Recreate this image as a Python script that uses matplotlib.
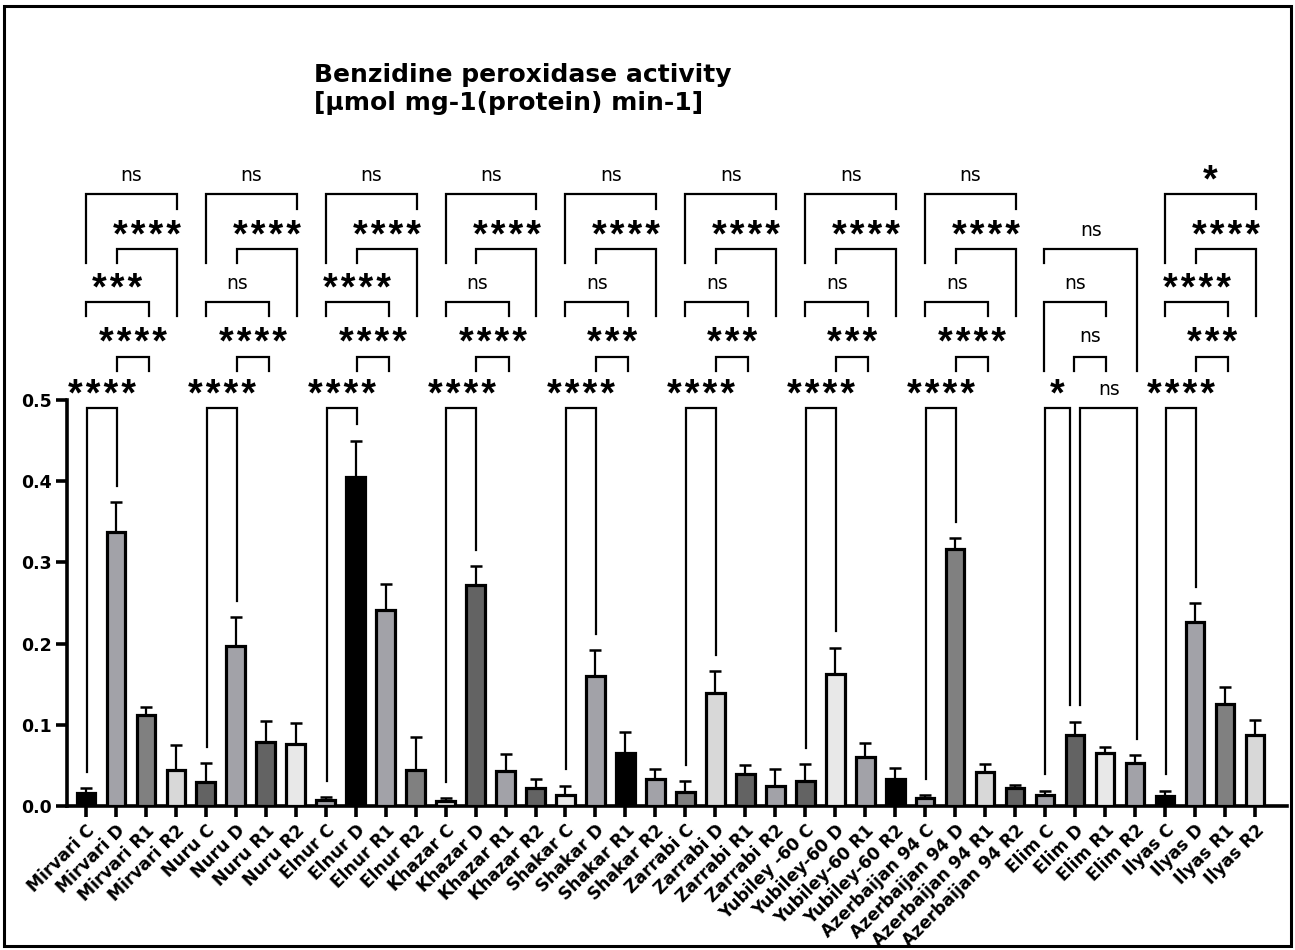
import matplotlib
matplotlib.use("Agg")
import matplotlib.pyplot as plt
from matplotlib.patches import Rectangle

plt.rcParams['font.family'] = ['DejaVu Sans']

# ---------------- data ----------------
cultivars = ["Mirvari", "Nuru", "Elnur", "Khazar", "Shakar", "Zarrabi",
             "Yubiley -60", "Azerbaijan 94", "Elim", "Ilyas"]
treatments = ["C", "D", "R1", "R2"]

labels = ["Mirvari C", "Mirvari D", "Mirvari R1", "Mirvari R2",
          "Nuru C", "Nuru D", "Nuru R1", "Nuru R2",
          "Elnur C", "Elnur D", "Elnur R1", "Elnur R2",
          "Khazar C", "Khazar D", "Khazar R1", "Khazar R2",
          "Shakar C", "Shakar D", "Shakar R1", "Shakar R2",
          "Zarrabi C", "Zarrabi D", "Zarrabi R1", "Zarrabi R2",
          "Yubiley -60 C", "Yubiley-60 D", "Yubiley-60 R1", "Yubiley-60 R2",
          "Azerbaijan 94 C", "Azerbaijan 94 D", "Azerbaijan 94 R1", "Azerbaijan 94 R2",
          "Elim C", "Elim D", "Elim R1", "Elim R2",
          "Ilyas C", "Ilyas D", "Ilyas R1", "Ilyas R2"]

means = [0.016, 0.337, 0.112, 0.044,
         0.030, 0.197, 0.079, 0.076,
         0.008, 0.405, 0.241, 0.044,
         0.006, 0.272, 0.043, 0.022,
         0.014, 0.160, 0.065, 0.033,
         0.017, 0.139, 0.040, 0.025,
         0.031, 0.162, 0.060, 0.033,
         0.010, 0.317, 0.042, 0.022,
         0.014, 0.087, 0.065, 0.053,
         0.012, 0.226, 0.126, 0.088]

errs = [0.006, 0.037, 0.010, 0.031,
        0.023, 0.036, 0.026, 0.026,
        0.003, 0.045, 0.032, 0.041,
        0.004, 0.023, 0.021, 0.011,
        0.011, 0.032, 0.026, 0.012,
        0.014, 0.027, 0.010, 0.020,
        0.021, 0.033, 0.017, 0.014,
        0.003, 0.013, 0.010, 0.004,
        0.005, 0.017, 0.008, 0.010,
        0.007, 0.024, 0.021, 0.018]

K, G1, G2, L1, D, L2 = "#000000", "#a2a2a8", "#808080", "#d8d8d8", "#636363", "#e8e8e8"
colors = [K, G1, G2, L1,
          D, G1, D, L2,
          G1, K, G1, G2,
          L1, D, G1, D,
          L2, G1, K, G1,
          G2, L1, D, G1,
          D, L2, G1, K,
          G1, G2, L1, D,
          G1, D, L2, G1,
          K, G1, G2, L1]

# significance labels per group: C-D, D-R1, C-R1, D-R2, C-R2
sig_CD = ["****", "****", "****", "****", "****", "****", "****", "****", "*", "****"]
sig_DR1 = ["****", "****", "****", "****", "***", "***", "***", "****", "ns", "***"]
sig_CR1 = ["***", "ns", "****", "ns", "ns", "ns", "ns", "ns", "ns", "****"]
sig_DR2 = ["****", "****", "****", "****", "****", "****", "****", "****", "ns", "****"]
sig_CR2 = ["ns", "ns", "ns", "ns", "ns", "ns", "ns", "ns", "ns", "*"]

title = "Benzidine peroxidase activity\n[µmol mg-1(protein) min-1]"

# ---------------- figure ----------------
W, H = 1295, 950
fig = plt.figure(figsize=(W / 100, H / 100), dpi=100)
fig.patches.append(Rectangle((4 / W, 4 / H), 1 - 8 / W, 1 - 10 / H, transform=fig.transFigure,
                             fill=False, edgecolor="black", linewidth=2.2, zorder=10))

ax = fig.add_axes([67 / W, 1 - 806 / H, (1287 - 67) / W, (806 - 400) / H])
x = list(range(len(means)))
ax.bar(x, means, width=0.62, color=colors, edgecolor="black", linewidth=2.3, zorder=3)
ax.errorbar(x, means, yerr=[[0] * len(errs), errs], fmt="none", ecolor="black",
            elinewidth=1.6, capsize=4.5, capthick=1.8, zorder=2)

ax.set_xlim(-0.63, 40.07)
ax.set_ylim(0, 0.5)
ax.set_yticks([0, 0.1, 0.2, 0.3, 0.4, 0.5])
ax.set_yticklabels(["0.0", "0.1", "0.2", "0.3", "0.4", "0.5"], fontsize=12.5, fontweight="bold")
ax.set_xticks(x)
ax.set_xticklabels(labels, rotation=45, ha="right", va="top", rotation_mode="anchor",
                   fontsize=12.3, fontweight="bold")
for s in ["top", "right"]:
    ax.spines[s].set_visible(False)
for s in ["left", "bottom"]:
    ax.spines[s].set_linewidth(2.6)
ax.tick_params(axis="both", direction="out", length=8, width=2.6, pad=3)

fig.text(314 / W, 1 - 63 / H, title, ha="left", va="top", fontsize=18, fontweight="bold",
         linespacing=1.2)

# ---------------- significance brackets ----------------
LW = 1.6
GAP = 0.02
HAIR = "\u200a"


def bracket(x1, x2, ytop, yl1, yl2, text, ytext):
    ax.plot([x1, x1, x2, x2], [yl1, ytop, ytop, yl2], color="black", lw=LW,
            clip_on=False, solid_joinstyle="miter", zorder=4)
    if "*" in text:
        ax.text((x1 + x2) / 2, ytext - 0.0085, HAIR.join(text), ha="center", va="center",
                fontsize=27, fontweight="bold", family=["Liberation Sans", "DejaVu Sans"],
                clip_on=False, zorder=5)
    else:
        ax.text((x1 + x2) / 2, ytext, text, ha="center", va="center",
                fontsize=13.5, clip_on=False, zorder=5)


Y1, Y2, Y3, Y4, Y5 = 0.490, 0.553, 0.621, 0.686, 0.754
T1, T2, T3, T4, T5 = 0.5135, 0.578, 0.644, 0.709, 0.777
LEG2, LEG3, LEG4 = 0.536, 0.603, 0.669
tops = [m + e + GAP for m, e in zip(means, errs)]

for g in range(len(cultivars)):
    c, d, r1, r2 = 4 * g, 4 * g + 1, 4 * g + 2, 4 * g + 3
    if cultivars[g] != "Elim":
        bracket(c + 0.03, d + 0.03, Y1, tops[c], tops[d], sig_CD[g], T1)
        bracket(d + 0.03, r1 + 0.1, Y2, LEG2, LEG2, sig_DR1[g], T2)
        bracket(c, r1 + 0.1, Y3, LEG3, LEG3, sig_CR1[g], T3)
        bracket(d + 0.03, r2 + 0.03, Y4, LEG4, LEG3, sig_DR2[g], T4)
        bracket(c, r2 + 0.03, Y5, LEG4, 0.735, sig_CR2[g], T5)
    else:
        bracket(c, d - 0.17, Y1, tops[c], tops[d], sig_CD[g], T1)
        bracket(d + 0.17, r2 + 0.07, Y1, tops[d], tops[r2], sig_DR2[g], T1)
        bracket(d - 0.03, r1 + 0.03, Y2, LEG2, LEG2, sig_DR1[g], T2)
        bracket(c - 0.03, r1 + 0.03, Y3, LEG2, LEG3, sig_CR1[g], T3)
        bracket(c - 0.03, r2 + 0.07, Y4, LEG4, LEG2, sig_CR2[g], T4)

fig.savefig("out.png", dpi=100)
